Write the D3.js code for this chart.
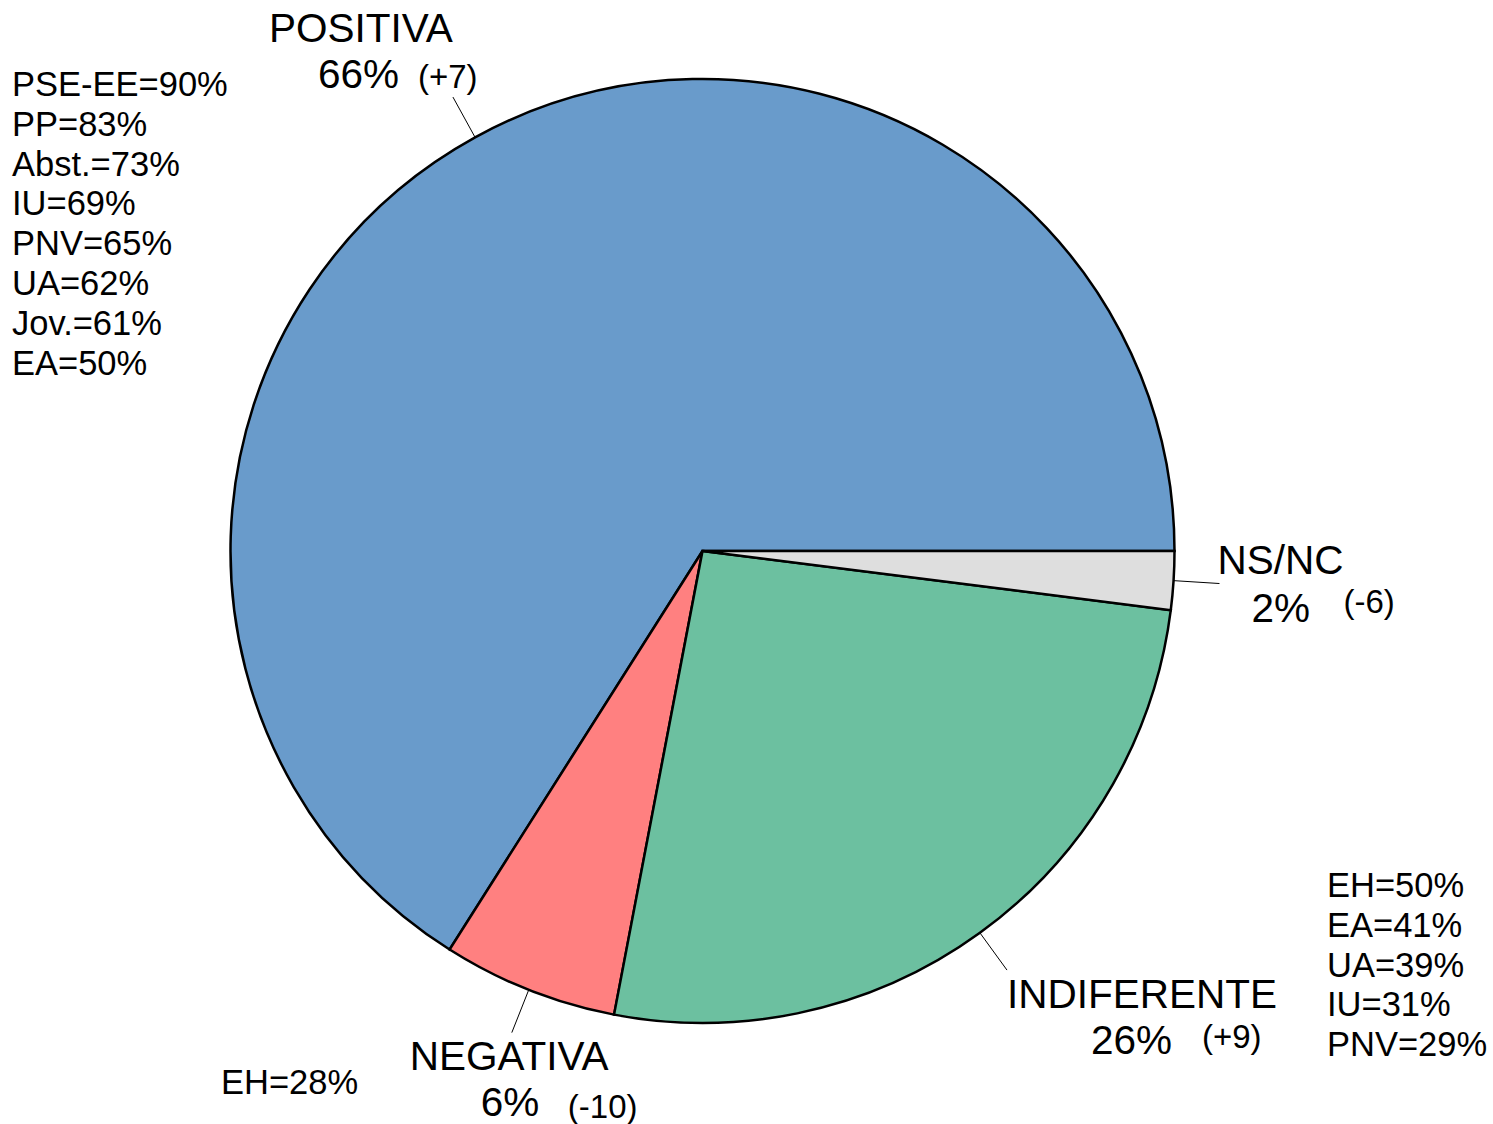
<!DOCTYPE html>
<html>
<head>
<meta charset="utf-8">
<script src="https://cdn.jsdelivr.net/npm/d3@7/dist/d3.min.js"></script>
<style>
  html, body { margin: 0; padding: 0; background: #fff; }
  svg text { font-family: "Liberation Sans", Arial, sans-serif; fill: #000; }
</style>
</head>
<body>
<div id="chart"></div>
<script>
// DATA
const categories = ['POSITIVA', 'NEGATIVA', 'INDIFERENTE', 'NS/NC'];
const values = [66, 6, 26, 2];
const changes = ['(+7)', '(-10)', '(+9)', '(-6)'];
const colors = ['#699BCB', '#FF8080', '#6CC0A0', '#DEDEDE'];

const positivaBreakdown = ['PSE-EE=90%', 'PP=83%', 'Abst.=73%', 'IU=69%', 'PNV=65%', 'UA=62%', 'Jov.=61%', 'EA=50%'];
const indiferenteBreakdown = ['EH=50%', 'EA=41%', 'UA=39%', 'IU=31%', 'PNV=29%'];
const negativaBreakdown = ['EH=28%'];

// layout
const width = 1493, height = 1124;
const cx = 702.5, cy = 551, radius = 472;
const leaderLen = 46;

// label offsets from the end of each leader line: [name], [pct], [change]
const labelPos = [
  { name: [-184, -55], pct: [-135, -9], chg: [-35, -9] },
  { name: [-102, 37], pct: [-31, 83], chg: [56, 85] },
  { name: [0, 38], pct: [84, 84], chg: [195, 78] },
  { name: [-2, -10], pct: [32, 38], chg: [124, 29] }
];

const svg = d3.select('#chart').append('svg')
  .attr('width', width)
  .attr('height', height);

const g = svg.append('g').attr('transform', `translate(${cx},${cy})`);

// counterclockwise from 3 o'clock
const pie = d3.pie()
  .sort(null)
  .value(d => d.value)
  .startAngle(Math.PI / 2)
  .endAngle(Math.PI / 2 - 2 * Math.PI);

const arc = d3.arc().innerRadius(0).outerRadius(radius);

const data = categories.map((c, i) => ({ name: c, value: values[i], change: changes[i], color: colors[i] }));
const arcs = pie(data);

g.selectAll('path.slice')
  .data(arcs)
  .enter()
  .append('path')
    .attr('class', 'slice')
    .attr('d', arc)
    .attr('fill', d => d.data.color)
    .attr('stroke', '#000')
    .attr('stroke-width', 2.5)
    .attr('stroke-linejoin', 'miter');

const polar = (a, r) => [r * Math.sin(a), -r * Math.cos(a)];

arcs.forEach((d, i) => {
  const a = (d.startAngle + d.endAngle) / 2;
  const p0 = polar(a, radius);
  const p1 = polar(a, radius + leaderLen);

  g.append('line')
    .attr('x1', p0[0]).attr('y1', p0[1])
    .attr('x2', p1[0]).attr('y2', p1[1])
    .attr('stroke', '#000')
    .attr('stroke-width', 1);

  const lp = labelPos[i];
  g.append('text')
    .attr('x', p1[0] + lp.name[0])
    .attr('y', p1[1] + lp.name[1])
    .style('font-size', '40.5px')
    .text(d.data.name);
  g.append('text')
    .attr('x', p1[0] + lp.pct[0])
    .attr('y', p1[1] + lp.pct[1])
    .style('font-size', '40.5px')
    .text(`${d.data.value}%`);
  g.append('text')
    .attr('x', p1[0] + lp.chg[0])
    .attr('y', p1[1] + lp.chg[1])
    .style('font-size', '33px')
    .text(d.data.change);
});

// breakdown lists
const list = (items, x, y0) => {
  svg.append('g').selectAll('text')
    .data(items)
    .enter()
    .append('text')
      .attr('x', x)
      .attr('y', (d, i) => y0 + i * 39.8)
      .style('font-size', '34.5px')
      .text(d => d);
};

list(positivaBreakdown, 12, 96);
list(indiferenteBreakdown, 1327, 897);
list(negativaBreakdown, 221, 1094);
</script>
</body>
</html>
